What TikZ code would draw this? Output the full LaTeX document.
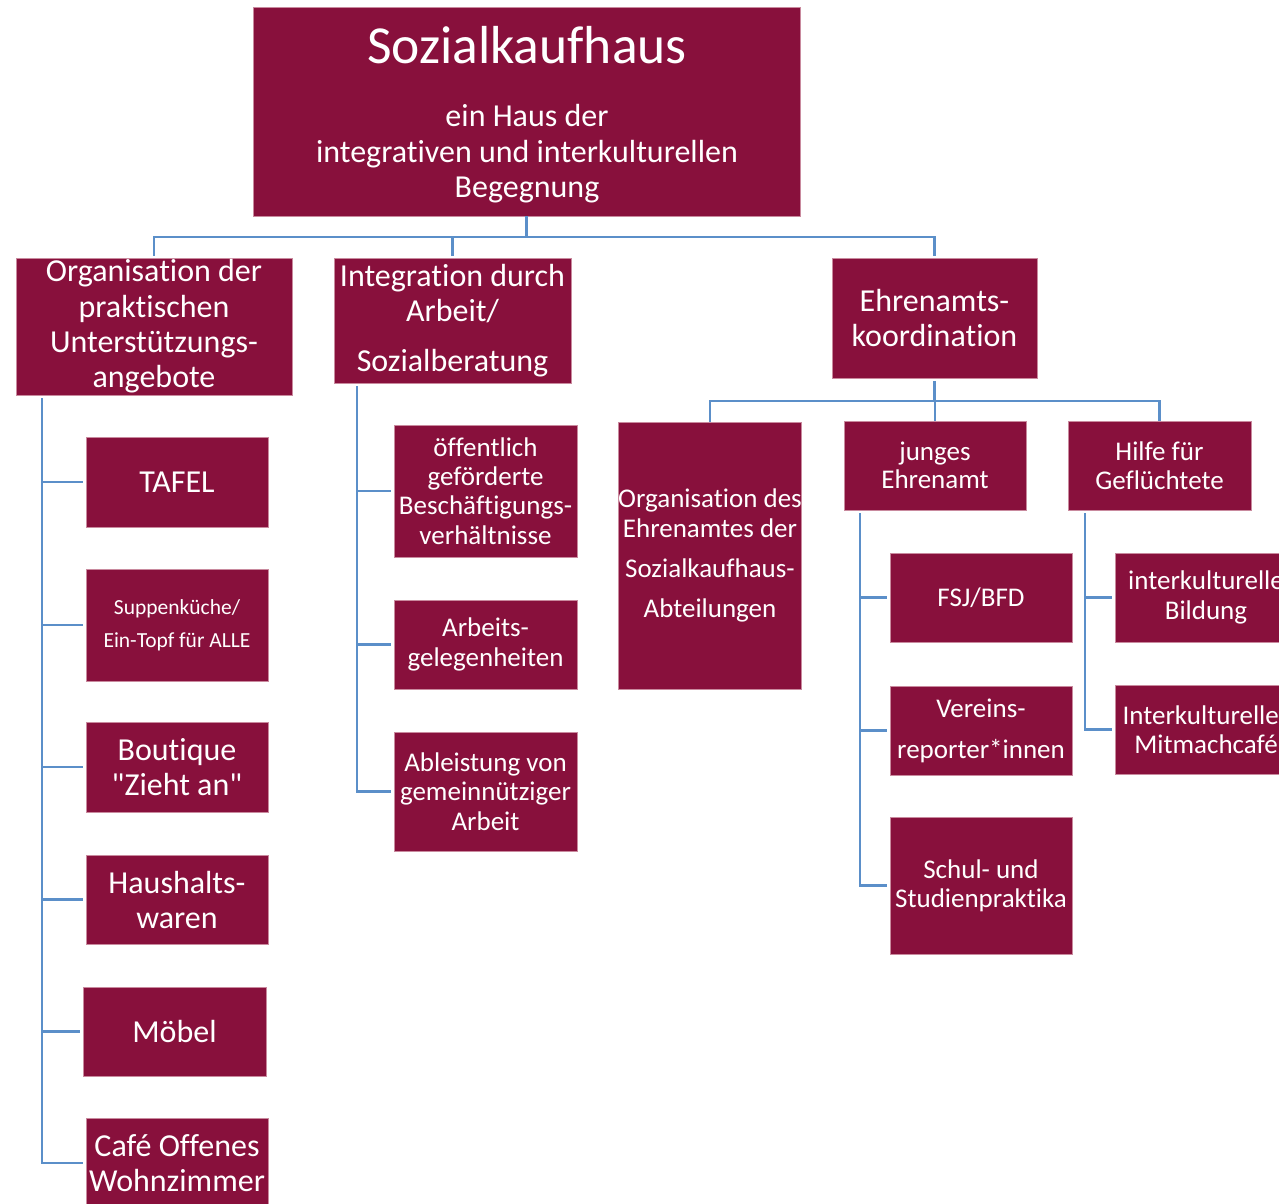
\documentclass[tikz,border=0pt]{standalone}
\usepackage{fontspec}
\setmainfont{Carlito}[Ligatures={TeXOff,CommonOff}]
\definecolor{boxc}{HTML}{88103C}
\definecolor{boxedge}{HTML}{C98A9E}
\definecolor{linec}{HTML}{5B8FC9}
\tikzset{
  box/.style={rectangle, fill=boxc, draw=boxedge, line width=0.8pt, text=white,
    inner sep=0pt, outer sep=0pt, align=center},
  bigtxt/.style={font=\fontsize{32}{35.3}\selectfont},
  leaftxt/.style={font=\fontsize{32}{35}\selectfont},
  midtxt/.style={font=\fontsize{27}{29.3}\selectfont},
  wtext/.style={text=white, inner sep=0pt, align=center},
  conn/.style={draw=linec, line width=2.6pt},
}
\newcommand{\bx}[6]{\node[box,#6, minimum width=#4pt, minimum height=#5pt] (#1) at (#2,#3)}
\begin{document}
\begin{tikzpicture}[x=1pt,y=-1pt]
\useasboundingbox (0,0) rectangle (1279,1204);
\clip (0,0) rectangle (1279,1204);
% top
\bx{top}{526.5}{111.5}{547}{209}{} {};
\node[wtext, font=\fontsize{53.5}{53.5}\selectfont, anchor=base] (title) at (527,64) {Sozialkaufhaus};
\node[wtext, font=\fontsize{32}{35.5}\selectfont, anchor=center] (sub) at (527,154) {ein Haus der\\integrativen und interkulturellen\\Begegnung};
% level 1
\bx{org}{154}{326.5}{276}{137}{bigtxt} {Organisation der\\praktischen\\Unterstützungs-\\angebote};
\bx{integ}{452.5}{320.5}{237}{125}{bigtxt} {Integration durch\\Arbeit/\\[14pt]Sozialberatung};
\bx{ehren}{934.5}{318}{205}{120}{leaftxt} {Ehrenamts-\\koordination};
% org children
\bx{tafel}{177}{482}{182}{90}{leaftxt} {TAFEL};
\bx{suppe}{177}{625}{182}{112}{font=\fontsize{21.5}{33}\selectfont} {Suppenküche/\\Ein-Topf für ALLE};
\bx{boutique}{177}{767}{182}{90}{leaftxt} {Boutique\\"Zieht an"};
\bx{haus}{177}{899.5}{182}{89}{leaftxt} {Haushalts-\\waren};
\bx{moebel}{174.5}{1031.5}{183}{89}{leaftxt} {Möbel};
\bx{cafe}{177}{1163}{182}{90}{leaftxt} {Café Offenes\\Wohnzimmer};
% integ children
\bx{oeff}{485.5}{491}{183}{132}{midtxt} {öffentlich\\geförderte\\Beschäftigungs-\\verhältnisse};
\bx{arbg}{485.5}{644.5}{183}{89}{midtxt} {Arbeits-\\gelegenheiten};
\bx{ableist}{485.5}{791.5}{183}{119}{midtxt} {Ableistung von\\gemeinnütziger\\Arbeit};
% ehren children
\bx{orgE}{710}{555.5}{182}{267}{font=\fontsize{27}{30}\selectfont} {Organisation des\\Ehrenamtes der\\[10pt]Sozialkaufhaus-\\[10pt]Abteilungen};
\bx{junges}{935}{465.5}{182}{89}{font=\fontsize{27}{28.5}\selectfont} {junges\\Ehrenamt};
\bx{hilfe}{1159.5}{465.5}{183}{89}{font=\fontsize{27}{28.5}\selectfont} {Hilfe für\\Geflüchtete};
\bx{fsj}{981}{597.5}{182}{89}{midtxt} {FSJ/BFD};
\bx{vereins}{981}{730.5}{182}{89}{font=\fontsize{27}{41}\selectfont} {Vereins-\\reporter*innen};
\bx{schul}{981}{885.5}{182}{137}{midtxt} {Schul- und\\Studienpraktika};
\bx{ikb}{1206}{597.5}{182}{89}{midtxt} {interkulturelle\\Bildung};
\bx{ikm}{1206}{729.5}{182}{89}{midtxt} {Interkulturelles\\Mitmachcafé};
% connectors
\draw[conn, shorten >=2pt] (top.south) -- ++(0,21) -| (org.north);
\draw[conn, shorten >=2pt] (top.south) -- ++(0,21) -| (integ.north);
\draw[conn, shorten >=2pt] (top.south) -- ++(0,21) -| (ehren.north);
\foreach \c in {tafel,suppe,boutique,haus,moebel,cafe}
  \draw[conn, shorten <=3pt, shorten >=3pt] ([xshift=26pt]org.south west) |- (\c.west);
\foreach \c in {oeff,arbg,ableist}
  \draw[conn, shorten <=3pt, shorten >=3pt] ([xshift=23pt]integ.south west) |- (\c.west);
\draw[conn, shorten <=3pt] (ehren.south) -- ++(0,23) -| (orgE.north);
\draw[conn, shorten <=3pt] (ehren.south) -- ++(0,23) -| (junges.north);
\draw[conn, shorten <=3pt] (ehren.south) -- ++(0,23) -| (hilfe.north);
\foreach \c in {fsj,vereins,schul}
  \draw[conn, shorten <=3pt, shorten >=3pt] ([xshift=16pt]junges.south west) |- (\c.west);
\foreach \c in {ikb,ikm}
  \draw[conn, shorten <=3pt, shorten >=3pt] ([xshift=17pt]hilfe.south west) |- (\c.west);
\end{tikzpicture}
\end{document}
